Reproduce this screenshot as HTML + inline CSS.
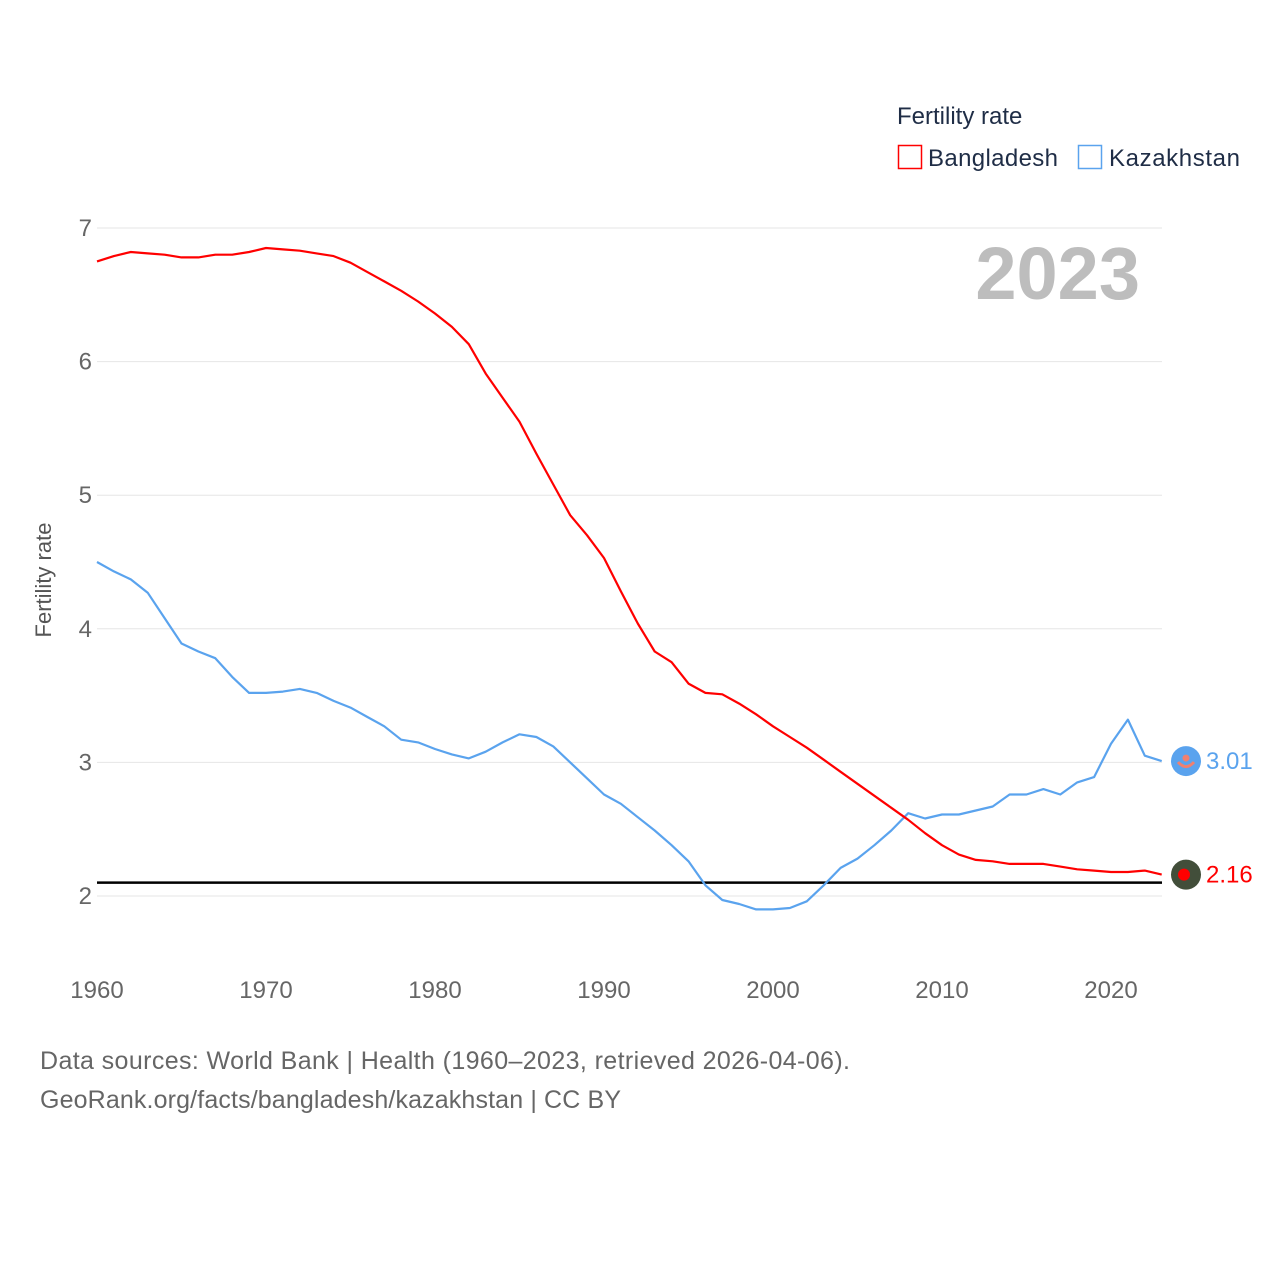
<!DOCTYPE html>
<html><head><meta charset="utf-8"><style>
html,body{margin:0;padding:0;background:#fff;}
svg{display:block;font-family:"Liberation Sans",sans-serif;}
</style></head><body>
<svg id="chart" width="1280" height="1280" viewBox="0 0 1280 1280">
<text x="897" y="124" font-size="24" fill="#1f2d46">Fertility rate</text>
<g>
<rect x="898.5" y="145.5" width="23" height="23" fill="none" stroke="#ff0000" stroke-width="1.5"/>
<text x="928" y="166" font-size="24" fill="#1f2d46" textLength="130">Bangladesh</text></g>
<g>
<rect x="1078.5" y="145.5" width="23" height="23" fill="none" stroke="#5aa3ee" stroke-width="1.5"/>
<text x="1109" y="166" font-size="24" fill="#1f2d46" textLength="131">Kazakhstan</text></g>
<text x="1140" y="299" font-size="74" font-weight="bold" fill="#bdbdbd" text-anchor="end">2023</text>
<text transform="translate(51,580) rotate(-90)" font-size="22" fill="#555" text-anchor="middle">Fertility rate</text>
<g id="grid"></g><g id="series"></g>
<text x="40" y="1069" font-size="25" fill="#666" textLength="810">Data sources: World Bank | Health (1960–2023, retrieved 2026-04-06).</text>
<text x="40" y="1108" font-size="25" fill="#666" textLength="581">GeoRank.org/facts/bangladesh/kazakhstan | CC BY</text>
</svg>
<script>
const years=[];for(let y=1960;y<=2023;y++)years.push(y);
const bangladesh=[6.75,6.79,6.82,6.81,6.80,6.78,6.78,6.80,6.80,6.82,6.85,6.84,6.83,6.81,6.79,6.74,6.67,6.60,6.53,6.45,6.36,6.26,6.13,5.91,5.73,5.55,5.31,5.08,4.85,4.70,4.53,4.28,4.04,3.83,3.75,3.59,3.52,3.51,3.44,3.36,3.27,3.19,3.11,3.02,2.93,2.84,2.75,2.66,2.57,2.47,2.38,2.31,2.27,2.26,2.24,2.24,2.24,2.22,2.20,2.19,2.18,2.18,2.19,2.16];
const kazakhstan=[4.50,4.43,4.37,4.27,4.08,3.89,3.83,3.78,3.64,3.52,3.52,3.53,3.55,3.52,3.46,3.41,3.34,3.27,3.17,3.15,3.10,3.06,3.03,3.08,3.15,3.21,3.19,3.12,3.00,2.88,2.76,2.69,2.59,2.49,2.38,2.26,2.08,1.97,1.94,1.90,1.90,1.91,1.96,2.08,2.21,2.28,2.38,2.49,2.62,2.58,2.61,2.61,2.64,2.67,2.76,2.76,2.80,2.76,2.85,2.89,3.14,3.32,3.05,3.01];
const yTicks=[2,3,4,5,6,7];
const xTicks=[1960,1970,1980,1990,2000,2010,2020];
const replacementRate=2.1;
const NS='http://www.w3.org/2000/svg';
const X=y=>97+(y-1960)*(1111-97)/60;
const Y=v=>896-(v-2)*(896-228)/5;
const grid=document.getElementById('grid'),ser=document.getElementById('series');
function mk(tag,attrs,parent,text){const e=document.createElementNS(NS,tag);for(const k in attrs)e.setAttribute(k,attrs[k]);if(text!==undefined)e.textContent=text;parent.appendChild(e);return e;}
yTicks.forEach(t=>{
 const l=mk('line',{x1:97,x2:1162,y1:Y(t),y2:Y(t),stroke:'#e6e6e6','stroke-width':1},grid);
 
 
 const tx=mk('text',{x:92,y:Y(t)+8,'font-size':24,fill:'#666','text-anchor':'end'},grid,String(t));
 
 
});
xTicks.forEach(t=>{
 const tx=mk('text',{x:X(t),y:998,'font-size':24,fill:'#666','text-anchor':'middle'},grid,String(t));
 
 
});
const rl=mk('line',{x1:97,x2:1162,y1:Y(replacementRate),y2:Y(replacementRate),stroke:'#000','stroke-width':2.5},ser);


function path(vals,color,name){
 const d=vals.map((v,i)=>(i?'L':'M')+X(years[i]).toFixed(1)+','+Y(v).toFixed(1)).join('');
 const p=mk('path',{d:d,fill:'none',stroke:color,'stroke-width':2.2,'stroke-linejoin':'round'},ser);
 
 
}
path(kazakhstan,'#5aa3ee','kazakhstan-line');
path(bangladesh,'#ff0000','bangladesh-line');
const last=years.length-1;
const kv=kazakhstan[last],bv=bangladesh[last];
const km=mk('circle',{cx:1186,cy:Y(kv),r:15,fill:'#5aa3ee'},ser);


mk('path',{d:`M1178,${Y(kv)+1} Q1186,${Y(kv)+10} 1194,${Y(kv)+1}`,stroke:'#f08070','stroke-width':3,fill:'none'},ser);
mk('circle',{cx:1186,cy:Y(kv)-3,r:3.5,fill:'#f08070'},ser);
const bm=mk('circle',{cx:1186,cy:Y(bv),r:15,fill:'#424e3a'},ser);


mk('circle',{cx:1184,cy:Y(bv),r:6,fill:'#ff0000'},ser);
const kl=mk('text',{x:1206,y:Y(kv)+8,'font-size':24,fill:'#5aa3ee'},ser,kv.toFixed(2));


const bl=mk('text',{x:1206,y:Y(bv)+8,'font-size':24,fill:'#ff0000'},ser,bv.toFixed(2));


</script>
</body></html>
